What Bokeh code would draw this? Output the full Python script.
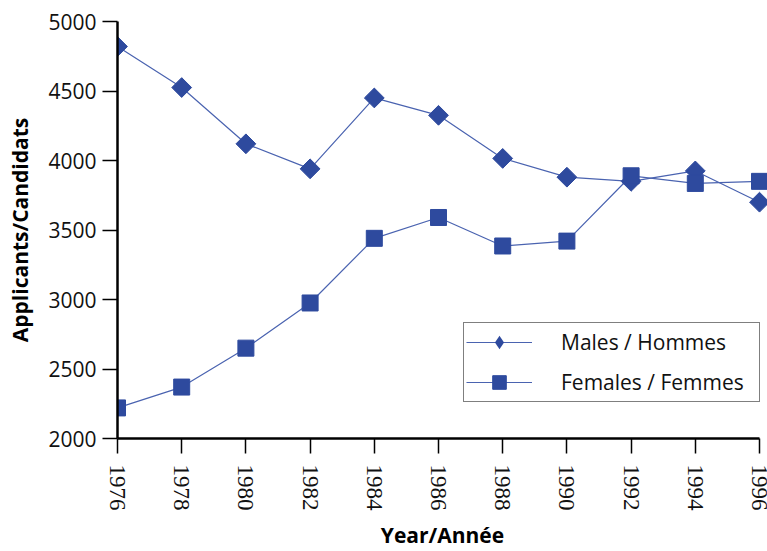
import math
from bokeh.plotting import figure
from bokeh.models import FixedTicker, Range1d, Legend, LegendItem
from bokeh.embed import file_html
from bokeh.resources import INLINE

years = [1976, 1978, 1980, 1982, 1984, 1986, 1988, 1990, 1992, 1994, 1996]
males = [4820, 4525, 4120, 3940, 4450, 4325, 4015, 3880, 3850, 3925, 3700]
females = [2220, 2370, 2650, 2975, 3440, 3590, 3385, 3420, 3890, 3835, 3850]
y_ticks = [2000, 2500, 3000, 3500, 4000, 4500, 5000]
x_ticks = years
male_label = "Males / Hommes"
female_label = "Females / Femmes"
x_title = "Year/Année"
y_title = "Applicants/Candidats"

marker_color = "#2E4A9E"
line_color = "#4A63B0"

p = figure(width=767, height=551, output_backend="svg", toolbar_location=None,
           x_range=Range1d(1976, 1996.249), y_range=Range1d(2000, 5000),
           min_border_left=117, min_border_right=0, min_border_top=21,
           min_border_bottom=80)
p.outline_line_color = None
p.xgrid.visible = False
p.ygrid.visible = False

r1 = p.line(years, males, line_color=line_color, line_width=1.2)
# plain diamond (used for the legend), hidden under the rotated square
d1 = p.scatter(years, males, marker="diamond", size=19,
               fill_color=marker_color, line_color=None)
s1 = p.scatter(years, males, marker="square", angle=math.pi / 4, size=14,
               fill_color=marker_color, line_color=marker_color)
r2 = p.line(years, females, line_color=line_color, line_width=1.2)
s2 = p.scatter(years, females, marker="square", size=16,
               fill_color=marker_color, line_color=marker_color)

for ax in (p.xaxis[0], p.yaxis[0]):
    ax.axis_line_width = 2.5
    ax.axis_line_color = "black"
    ax.major_tick_line_width = 1.5
    ax.major_tick_line_color = "black"
    ax.major_tick_in = 0
    ax.major_tick_out = 15
    ax.minor_tick_line_color = None
    ax.major_label_text_color = "#111111"
    ax.axis_label_text_color = "black"
    ax.axis_label_text_font = "Open Sans"
    ax.axis_label_text_font_style = "bold"
    ax.axis_label_text_font_size = "21px"

p.yaxis.ticker = FixedTicker(ticks=y_ticks)
p.yaxis.major_label_text_font = "Open Sans"
p.yaxis.major_label_text_font_size = "21px"
p.yaxis.major_label_standoff = 6
p.yaxis.axis_label = y_title
p.yaxis.axis_label_standoff = 11

p.xaxis.ticker = FixedTicker(ticks=x_ticks)
p.xaxis.bounds = (1976, 1996)
p.xaxis.major_label_orientation = "vertical"
p.xaxis.major_label_text_font = "Liberation Serif"
p.xaxis.major_label_text_font_size = "23px"
p.xaxis.major_label_standoff = 11
p.xaxis.axis_label = x_title
p.xaxis.axis_label_standoff = 7

legend = Legend(items=[LegendItem(label=male_label, renderers=[r1, d1]),
                       LegendItem(label=female_label, renderers=[r2, s2])],
                location=(346, 36))
legend.border_line_color = "black"
legend.border_line_width = 1.5
legend.background_fill_color = "white"
legend.background_fill_alpha = 1
legend.label_text_font = "Open Sans"
legend.label_text_font_size = "21px"
legend.label_text_color = "#111111"
legend.glyph_width = 66
legend.glyph_height = 34
legend.label_height = 20
legend.label_width = 196
legend.label_standoff = 29
legend.spacing = 6
legend.padding = 2
legend.margin = 0
p.add_layout(legend)

open("out.html", "w").write(file_html(p, INLINE))
